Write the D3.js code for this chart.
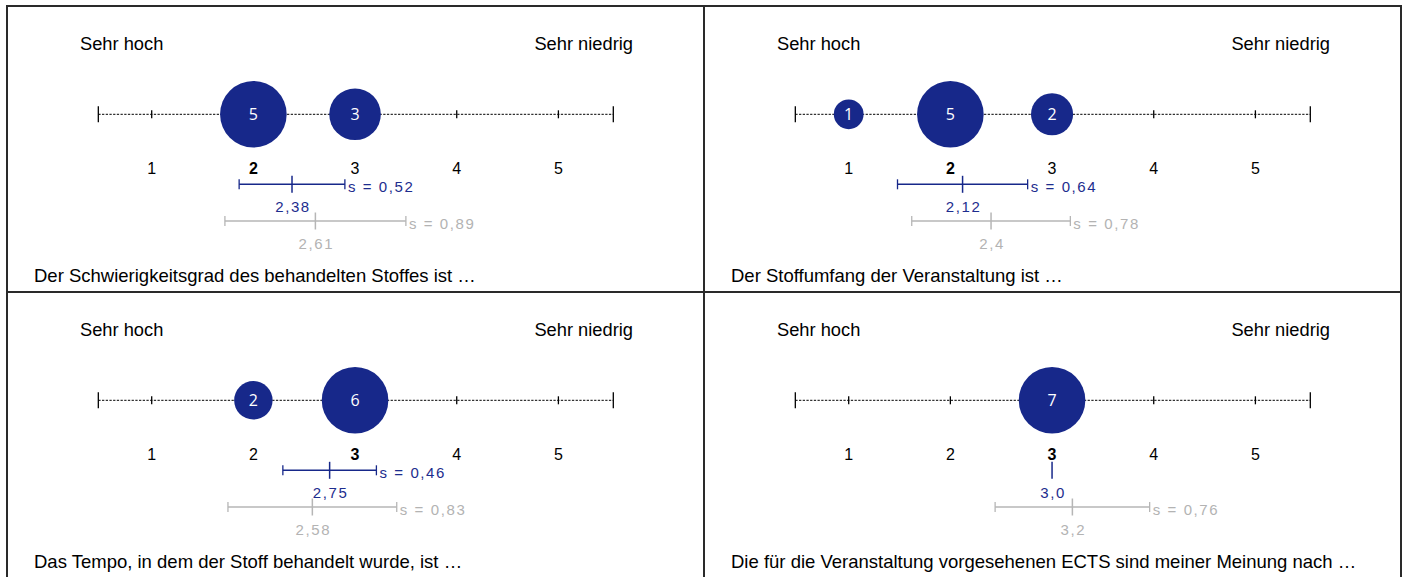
<!DOCTYPE html>
<html><head><meta charset="utf-8">
<script src="https://cdn.jsdelivr.net/npm/d3@7"></script>
<style>
html,body{margin:0;padding:0;background:#fff;}
svg{display:block;font-family:"Liberation Sans",Arial,sans-serif;}
</style></head>
<body><svg id="chart" width="1406" height="577"></svg>
<script>
// ---- data ----
const titles = [
  "Der Schwierigkeitsgrad des behandelten Stoffes ist …",
  "Der Stoffumfang der Veranstaltung ist …",
  "Das Tempo, in dem der Stoff behandelt wurde, ist …",
  "Die für die Veranstaltung vorgesehenen ECTS sind meiner Meinung nach …"
];
const categories = [1, 2, 3, 4, 5];
const scaleLabels = ["1", "2", "3", "4", "5"];
const anchorLabels = ["Sehr hoch", "Sehr niedrig"];
const counts = [
  [0, 5, 3, 0, 0],
  [1, 5, 2, 0, 0],
  [0, 2, 6, 0, 0],
  [0, 0, 7, 0, 0]
];
const medians = [2, 2, 3, 3];
const means = [2.38, 2.12, 2.75, 3.0];
const meanLabels = ["2,38", "2,12", "2,75", "3,0"];
const sds = [0.52, 0.64, 0.46, 0];
const refMeans = [2.61, 2.4, 2.58, 3.2];
const refMeanLabels = ["2,61", "2,4", "2,58", "3,2"];
const refSds = [0.89, 0.78, 0.83, 0.76];

// ---- layout ----
const svg = d3.select("#chart");
const frameX = 7, frameY = 6, panelW = 697, panelH = 286;
const blue = "#17288a", blueText = "#1d2d8e", gray = "#b6b6b6", grayText = "#b3b3b3";
const axisExtent = [0.475, 5.54];
const fmtS = v => "s = " + v.toFixed(2).replace(".", ",");

titles.forEach((title, i) => {
  const col = i % 2, row = Math.floor(i / 2);
  const g = svg.append("g").attr("transform", `translate(${frameX + col * panelW},${frameY + row * panelH})`);
  const x = d3.scaleLinear().domain([1, 5]).range([144.7, 551.4]);
  const maxC = d3.max(counts[i]);
  const r = d3.scaleSqrt().domain([0, maxC]).range([0, 33.3]);
  const axisY = 108.3;

  // anchors
  g.append("text").attr("x", 73).attr("y", 37.5).attr("dy", "0.35em")
    .attr("font-size", 18.3).attr("fill", "#000").text(anchorLabels[0]);
  g.append("text").attr("x", 626).attr("y", 37.5).attr("dy", "0.35em")
    .attr("text-anchor", "end").attr("font-size", 18.3).attr("fill", "#000").text(anchorLabels[1]);

  // dotted axis
  g.append("line").attr("x1", x(axisExtent[0])).attr("x2", x(axisExtent[1]))
    .attr("y1", axisY).attr("y2", axisY)
    .attr("stroke", "#000").attr("stroke-width", 1).attr("stroke-dasharray", "2.3,1.4");
  axisExtent.forEach(v => {
    g.append("line").attr("x1", x(v)).attr("x2", x(v)).attr("y1", axisY - 8).attr("y2", axisY + 8)
      .attr("stroke", "#000").attr("stroke-width", 1.3);
  });
  g.selectAll(".tk").data(categories).join("line")
    .attr("x1", d => x(d)).attr("x2", d => x(d))
    .attr("y1", axisY - 4).attr("y2", axisY + 4)
    .attr("stroke", "#000").attr("stroke-width", 1.3);

  // bubbles
  const bub = categories.map((c, k) => ({c, n: counts[i][k]})).filter(d => d.n > 0);
  g.selectAll(".bub").data(bub).join("circle")
    .attr("cx", d => x(d.c)).attr("cy", axisY).attr("r", d => r(d.n)).attr("fill", blue);
  g.selectAll(".bubt").data(bub).join("text")
    .attr("x", d => x(d.c)).attr("y", axisY).attr("dy", "0.36em").attr("text-anchor", "middle")
    .attr("font-family", "'Open Sans',sans-serif").attr("font-size", 16).attr("fill", "#fff")
    .text(d => d.n);

  // scale labels
  g.selectAll(".sl").data(categories).join("text")
    .attr("x", d => x(d)).attr("y", 162).attr("dy", "0.35em").attr("text-anchor", "middle")
    .attr("font-size", 16).attr("fill", "#000")
    .attr("font-weight", d => d === medians[i] ? "bold" : "normal")
    .text((d, k) => scaleLabels[k]);

  // error bars
  function bar(mean, sd, label, y, labY, colr, tcol) {
    if (sd > 0) {
      g.append("line").attr("x1", x(mean - sd)).attr("x2", x(mean + sd)).attr("y1", y).attr("y2", y)
        .attr("stroke", colr).attr("stroke-width", 1.5);
      [mean - sd, mean + sd].forEach(v => {
        g.append("line").attr("x1", x(v)).attr("x2", x(v)).attr("y1", y - 5).attr("y2", y + 5)
          .attr("stroke", colr).attr("stroke-width", 1.3);
      });
      g.append("text").attr("x", x(mean + sd) + 3).attr("y", y + 2.5).attr("dy", "0.35em")
        .attr("font-size", 15).attr("letter-spacing", "1.6px").attr("fill", tcol).text(fmtS(sd));
    }
    g.append("line").attr("x1", x(mean)).attr("x2", x(mean)).attr("y1", y - 8.5).attr("y2", y + 8.5)
      .attr("stroke", colr).attr("stroke-width", 1.5);
    g.append("text").attr("x", x(mean) + 1).attr("y", labY).attr("dy", "0.35em").attr("text-anchor", "middle")
      .attr("font-size", 15).attr("letter-spacing", "1.6px").attr("fill", tcol).text(label);
  }
  bar(refMeans[i], refSds[i], refMeanLabels[i], 215, 238, gray, grayText);
  bar(means[i], sds[i], meanLabels[i], 178.3, 201, blue, blueText);

  // title
  g.append("text").attr("x", 27).attr("y", 270).attr("dy", "0.35em")
    .attr("font-size", 18.5).attr("fill", "#000").text(title);
});

// frame
const frame = svg.append("g").attr("fill", "none").attr("stroke", "#2a2a2a").attr("stroke-width", 2);
frame.append("rect").attr("x", frameX).attr("y", frameY).attr("width", 2 * panelW).attr("height", 2 * panelH);
frame.append("line").attr("x1", frameX + panelW).attr("x2", frameX + panelW).attr("y1", frameY).attr("y2", frameY + 2 * panelH);
frame.append("line").attr("x1", frameX).attr("x2", frameX + 2 * panelW).attr("y1", frameY + panelH).attr("y2", frameY + panelH);
</script></body></html>
